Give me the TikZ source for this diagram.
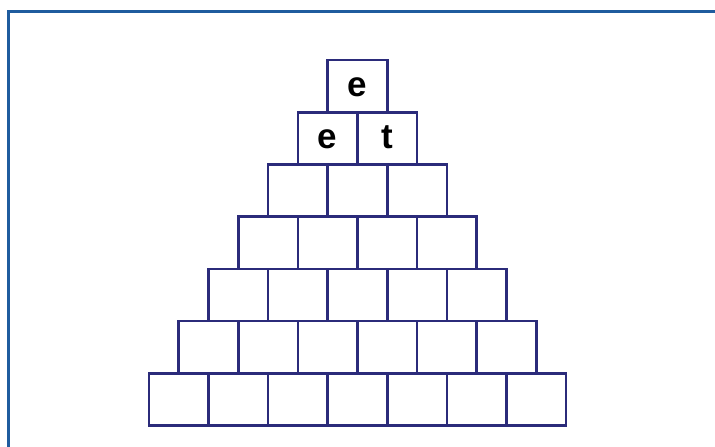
\documentclass[tikz,border=0pt]{standalone}
\usepackage{fontspec}
\setmainfont{Liberation Sans}
\usepackage{xcolor}
\usetikzlibrary{positioning}
\definecolor{boxnavy}{HTML}{2B2B7A}
\definecolor{frameblue}{HTML}{1F5C9E}
\begin{document}
\begin{tikzpicture}[
  x=1pt,y=-1pt,
  cell/.style={draw=boxnavy,line width=2.6pt,minimum width=59.6pt,minimum height=52.2pt,inner sep=0pt},
  letter/.style={inner sep=0pt,font=\fontsize{35}{40}\selectfont\bfseries,text height=22pt,text depth=2pt},
  frame/.style={draw=frameblue,line width=3pt},
]
\useasboundingbox (0,0) rectangle (715,447);
\draw[frame] (715,11) -| (8,447);
% pyramid rows, top to bottom
\foreach \r in {1,...,7} {
  \foreach \c in {1,...,\r} {
    \node[cell] (b-\r-\c) at ({357.5+(\c-(\r+1)/2)*59.6}, {86.1+(\r-1)*52.2}) {};
  }
}
\node[letter] (top-e)   at (b-1-1) {e};
\node[letter] (left-e)  at (b-2-1) {e};
\node[letter] (right-t) at (b-2-2) {t};
\end{tikzpicture}
\end{document}
